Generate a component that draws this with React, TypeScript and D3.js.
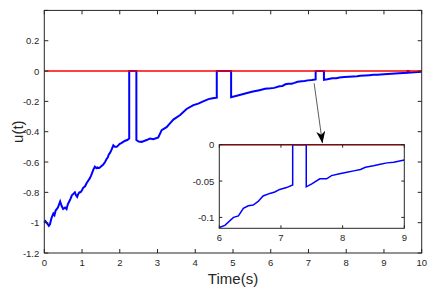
import React, { useEffect, useRef } from 'react';
import * as d3 from 'd3';

// control signal u(t), jumps to 0 are kept as vertical pairs of points
const time = [
  0, 0.03, 0.06, 0.09, 0.12, 0.15, 0.19, 0.24, 0.27, 0.3, 0.33, 0.36, 0.39, 0.42, 0.46, 0.5,
  0.55, 0.59, 0.62, 0.66, 0.7, 0.73, 0.77, 0.81, 0.84, 0.87, 0.9, 0.93, 0.96, 0.99, 1.03, 1.08,
  1.12, 1.17, 1.2, 1.24, 1.27, 1.3, 1.34, 1.38, 1.41, 1.45, 1.48, 1.52, 1.55, 1.58, 1.61, 1.65,
  1.68, 1.71, 1.74, 1.78, 1.83, 1.87, 1.92, 1.96, 2.0, 2.04, 2.07, 2.1, 2.14, 2.2,
  2.25, 2.25, 2.44, 2.44, 2.5, 2.58, 2.66, 2.71, 2.8, 2.89, 3.02, 3.11, 3.24, 3.33, 3.42, 3.6,
  3.77, 3.95, 4.08, 4.21, 4.35, 4.46, 4.57, 4.57, 4.95, 4.95, 5.1, 5.3, 5.5, 5.7, 5.85, 6.0,
  6.09, 6.23, 6.31, 6.39, 6.47, 6.55, 6.63, 6.71, 6.82, 6.9, 6.98, 7.09, 7.19, 7.19, 7.41, 7.41,
  7.5, 7.63, 7.74, 7.82, 7.95, 8.07, 8.18, 8.29, 8.37, 8.5, 8.61, 8.72, 8.83, 9.0, 9.2, 9.4,
  9.62, 9.62, 9.66, 9.66, 9.8, 10,
];
const u = [
  -1.0, -0.99, -1.0, -1.01, -1.02, -1.01, -0.97, -0.94, -0.95, -0.92, -0.91, -0.9, -0.88, -0.86, -0.89, -0.91,
  -0.9, -0.91, -0.88, -0.86, -0.84, -0.82, -0.81, -0.8, -0.82, -0.83, -0.81, -0.8, -0.8, -0.79, -0.77, -0.76,
  -0.74, -0.72, -0.71, -0.69, -0.67, -0.65, -0.63, -0.64, -0.635, -0.64, -0.635, -0.625, -0.62, -0.61, -0.6, -0.58,
  -0.57, -0.55, -0.54, -0.52, -0.49, -0.5, -0.5, -0.49, -0.48, -0.475, -0.47, -0.465, -0.46, -0.455,
  -0.445, 0, 0, -0.455, -0.465, -0.467, -0.46, -0.455, -0.445, -0.45, -0.438, -0.39, -0.37, -0.345, -0.32, -0.29,
  -0.25, -0.225, -0.215, -0.2, -0.185, -0.18, -0.176, 0, 0, -0.172, -0.163, -0.15, -0.137, -0.126, -0.117, -0.114,
  -0.111, -0.1, -0.098, -0.0875, -0.084, -0.083, -0.078, -0.0705, -0.067, -0.065, -0.0615, -0.059, -0.0555, 0, 0, -0.058,
  -0.054, -0.047, -0.047, -0.0425, -0.04, -0.038, -0.036, -0.034, -0.031, -0.029, -0.027, -0.025, -0.024, -0.021, -0.018, -0.015,
  -0.012, 0, 0, -0.011, -0.008, -0.005,
];
const reference = [0, 0];

const xTicks = [0, 1, 2, 3, 4, 5, 6, 7, 8, 9, 10];
const yTicks = [-1.2, -1, -0.8, -0.6, -0.4, -0.2, 0, 0.2, 0.4];
const yTickLabels = ['-1.2', '-1', '-0.8', '-0.6', '-0.4', '-0.2', '0', '0.2', ''];
const insetXTicks = [6, 7, 8, 9];
const insetYTicks = [-0.1, -0.05, 0];
const insetYTickLabels = ['-0.1', '-0.05', '0'];

const W = 433;
const H = 290;
const main = { left: 44.3, right: 421.7, top: 10.4, bottom: 253 };
const inset = { left: 219.3, right: 404.3, top: 144.7, bottom: 228.3 };
const axisColor = '#262626';
const font = '"Liberation Sans", Arial, Helvetica, sans-serif';

type Box = { left: number; right: number; top: number; bottom: number };

const drawAxesBox = (
  g: d3.Selection<SVGGElement, unknown, null, undefined>,
  box: Box,
  x: d3.ScaleLinear<number, number>,
  y: d3.ScaleLinear<number, number>,
  xt: number[],
  yt: number[],
  yLabels: string[],
  tickLen: number,
) => {
  const frame = g.append('g');
  frame
    .append('rect')
    .attr('x', box.left)
    .attr('y', box.top)
    .attr('width', box.right - box.left)
    .attr('height', box.bottom - box.top)
    .attr('fill', 'none')
    .attr('stroke', axisColor)
    .attr('stroke-width', 1);
  xt.forEach((t) => {
    const px = x(t);
    frame.append('line').attr('x1', px).attr('x2', px).attr('y1', box.bottom).attr('y2', box.bottom - tickLen).attr('stroke', axisColor);
    frame.append('line').attr('x1', px).attr('x2', px).attr('y1', box.top).attr('y2', box.top + tickLen).attr('stroke', axisColor);
    frame
      .append('text')
      .attr('x', px)
      .attr('y', box.bottom + 13)
      .attr('text-anchor', 'middle')
      .attr('font-family', font)
      .attr('font-size', 9.5)
      .attr('fill', axisColor)
      .text(String(t));
  });
  yt.forEach((t, i) => {
    const py = y(t);
    frame.append('line').attr('x1', box.left).attr('x2', box.left + tickLen).attr('y1', py).attr('y2', py).attr('stroke', axisColor);
    frame.append('line').attr('x1', box.right).attr('x2', box.right - tickLen).attr('y1', py).attr('y2', py).attr('stroke', axisColor);
    frame
      .append('text')
      .attr('x', box.left - 5)
      .attr('y', py + 3.5)
      .attr('text-anchor', 'end')
      .attr('font-family', font)
      .attr('font-size', 9.5)
      .attr('fill', axisColor)
      .text(yLabels[i]);
  });
};

const chart = (el: SVGSVGElement) => {
  const svg = d3.select(el);
  svg.selectAll('*').remove();
  const pts = time.map((t, i) => ({ t, v: u[i] }));

  // main axes
  const x = d3.scaleLinear().domain([0, 10]).range([main.left, main.right]);
  const y = d3.scaleLinear().domain([-1.2, 0.4]).range([main.bottom, main.top]);
  const gMain = svg.append('g');
  gMain.append('rect').attr('x', main.left).attr('y', main.top).attr('width', main.right - main.left).attr('height', main.bottom - main.top).attr('fill', '#fff');
  gMain
    .append('path')
    .datum(pts)
    .attr('d', d3.line<{ t: number; v: number }>().x((d) => x(d.t)).y((d) => y(d.v)))
    .attr('fill', 'none')
    .attr('stroke', '#0000ff')
    .attr('stroke-width', 2);
  gMain
    .append('path')
    .datum(reference)
    .attr('d', d3.line<number>().x((_, i) => x(i * 10)).y((d) => y(d)))
    .attr('stroke', '#ff0000')
    .attr('stroke-width', 1.5);
  drawAxesBox(gMain, main, x, y, xTicks, yTicks, yTickLabels, 4);

  gMain
    .append('text')
    .attr('x', (main.left + main.right) / 2)
    .attr('y', 284)
    .attr('text-anchor', 'middle')
    .attr('font-family', font)
    .attr('font-size', 15)
    .attr('fill', axisColor)
    .text('Time(s)');
  gMain
    .append('text')
    .attr('transform', `translate(23,${(main.top + main.bottom) / 2}) rotate(-90)`)
    .attr('text-anchor', 'middle')
    .attr('font-family', font)
    .attr('font-size', 15)
    .attr('fill', axisColor)
    .text('u(t)');

  // arrow pointing at the zoomed region
  svg
    .append('defs')
    .append('marker')
    .attr('id', 'head')
    .attr('viewBox', '0 0 12 9')
    .attr('refX', 12)
    .attr('refY', 4.5)
    .attr('markerWidth', 12)
    .attr('markerHeight', 9)
    .attr('markerUnits', 'userSpaceOnUse')
    .attr('orient', 'auto')
    .append('path')
    .attr('d', 'M0,0 L12,4.5 L0,9 L3.5,4.5 Z')
    .attr('fill', '#000');
  svg
    .append('line')
    .attr('x1', x(7.15))
    .attr('y1', y(-0.081))
    .attr('x2', x(7.37))
    .attr('y2', inset.top - 1.5)
    .attr('stroke', '#333')
    .attr('stroke-width', 0.8)
    .attr('marker-end', 'url(#head)');

  // inset axes
  const xi = d3.scaleLinear().domain([6, 9]).range([inset.left, inset.right]);
  const yi = d3.scaleLinear().domain([-0.115, 0]).range([inset.bottom, inset.top]);
  const gIn = svg.append('g');
  gIn.append('rect').attr('x', inset.left).attr('y', inset.top).attr('width', inset.right - inset.left).attr('height', inset.bottom - inset.top).attr('fill', '#fff');
  gIn.append('clipPath').attr('id', 'inclip').append('rect').attr('x', inset.left).attr('y', inset.top - 2).attr('width', inset.right - inset.left).attr('height', inset.bottom - inset.top + 2);
  gIn
    .append('path')
    .datum(pts)
    .attr('clip-path', 'url(#inclip)')
    .attr('d', d3.line<{ t: number; v: number }>().x((d) => xi(d.t)).y((d) => yi(d.v)))
    .attr('fill', 'none')
    .attr('stroke', '#0000ff')
    .attr('stroke-width', 1.5);
  gIn
    .append('path')
    .datum(reference)
    .attr('d', d3.line<number>().x((_, i) => xi(6 + i * 3)).y((d) => yi(d)))
    .attr('stroke', '#ff0000')
    .attr('stroke-width', 1.5);
  drawAxesBox(gIn, inset, xi, yi, insetXTicks, insetYTicks, insetYTickLabels, 3);
};

export default function App() {
  const ref = useRef<SVGSVGElement>(null);
  useEffect(() => {
    if (ref.current) chart(ref.current);
  }, []);
  return (
    <svg
      ref={ref}
      width={W}
      height={H}
      style={{ position: 'absolute', left: 0, top: 0, background: '#fff' }}
    />
  );
}
